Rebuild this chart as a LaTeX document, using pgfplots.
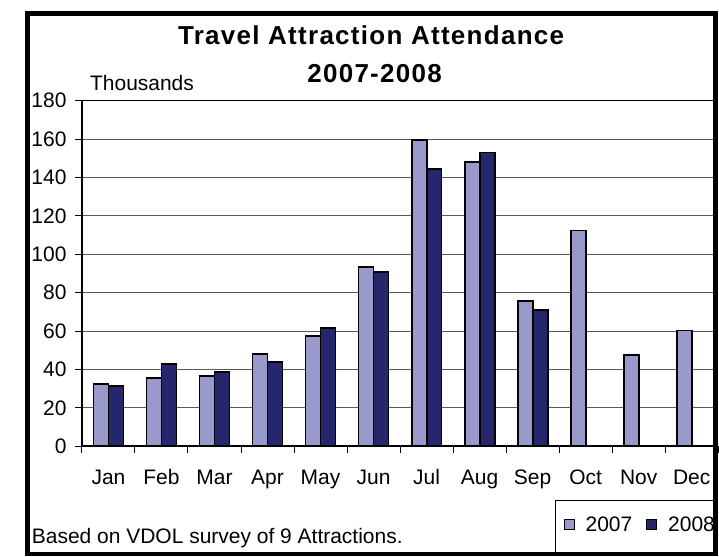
\documentclass[border=0pt]{standalone}
\usepackage{fontspec}
\setmainfont{Liberation Sans}
\newfontfamily\titlefont[LetterSpace=5]{Liberation Sans}
\usepackage{pgfplots}
\pgfplotsset{compat=1.18}
\usepackage{pgfplotstable}

\definecolor{ser07}{RGB}{153,153,204}
\definecolor{ser08}{RGB}{38,38,108}
\definecolor{gridc}{RGB}{90,90,90}

% attendance in thousands, months 0 = Jan ... 11 = Dec
\pgfplotstableread{
idx y2007 y2008
0   32.5  31.4
1   35.6  42.9
2   36.6  38.5
3   47.9  43.7
4   57.4  61.4
5   93.5  90.7
6   159.3 144.5
7   148.0 153.0
8   75.8  70.8
9   112.3 nan
10  47.5  nan
11  60.3  nan
}\attend

\begin{document}
\begin{tikzpicture}
\path (0pt,0pt) rectangle (719pt,-557pt);
\begin{axis}[
  at={(82pt,-446.7pt)}, anchor=south west,
  width=637pt, height=346pt, scale only axis,
  xmin=-0.5, xmax=11.5, ymin=0, ymax=180,
  ybar=0pt, bar width=15pt,
  xtick={-0.5,0.5,...,11.5}, x tick label as interval,
  xticklabels={Jan,Feb,Mar,Apr,May,Jun,Jul,Aug,Sep,Oct,Nov,Dec},
  ytick={0,20,...,180},
  tick align=outside, major tick length=7pt,
  axis x line*=bottom, axis y line*=left,
  axis line style={line width=1.5pt, black},
  ymajorgrids, grid style={gridc, line width=1pt},
  tick style={black, line width=1pt},
  ticklabel style={font=\fontsize{21}{25}\selectfont},
  /pgf/number format/assume math mode=true,
  yticklabel style={inner sep=0pt, xshift=-8.3pt},
  xticklabel style={inner sep=0pt, anchor=base, yshift=-31pt},
  legend columns=2,
  legend image code/.code={\draw[#1, line width=1pt] (0pt,-5pt) rectangle (10pt,5pt);},
  legend style={draw=none, fill=none, inner sep=0pt, anchor=west,
    at={(axis description cs:0.7567,-0.2263)},
    nodes={inner sep=0pt, font=\fontsize{21}{25}\selectfont},
    /tikz/every odd column/.style={column sep=11pt},
    /tikz/every even column/.style={column sep=14pt}},
]
\addplot[fill=ser07, draw=black, line width=1.8pt] table[x=idx, y=y2007]{\attend};
\addplot[fill=ser08, draw=black, line width=1.8pt] table[x=idx, y=y2008]{\attend};
\legend{2007,2008}
\draw[black, line width=1.3pt] (rel axis cs:0,1) -- (rel axis cs:1,1);
\end{axis}
\node[anchor=base, font=\titlefont\bfseries\fontsize{26}{31}\selectfont] at (371.5pt,-45pt) {Travel Attraction Attendance};
\node[anchor=base, font=\titlefont\bfseries\fontsize{26}{31}\selectfont] at (375pt,-82.7pt) {2007-2008};
\node[anchor=base west, inner sep=0pt, font=\fontsize{21}{25}\selectfont] at (90pt,-91pt) {Thousands};
\node[anchor=base west, inner sep=0pt, font=\fontsize{21}{25}\selectfont] at (31.7pt,-544pt) {Based on VDOL survey of 9 Attractions.};
\draw[line width=1pt] (556pt,-556pt) -- (556pt,-500.7pt) -- (716pt,-500.7pt);
\draw[line width=4.5pt] (27.5pt,-13.7pt) rectangle (716pt,-554.8pt);
\end{tikzpicture}
\end{document}
